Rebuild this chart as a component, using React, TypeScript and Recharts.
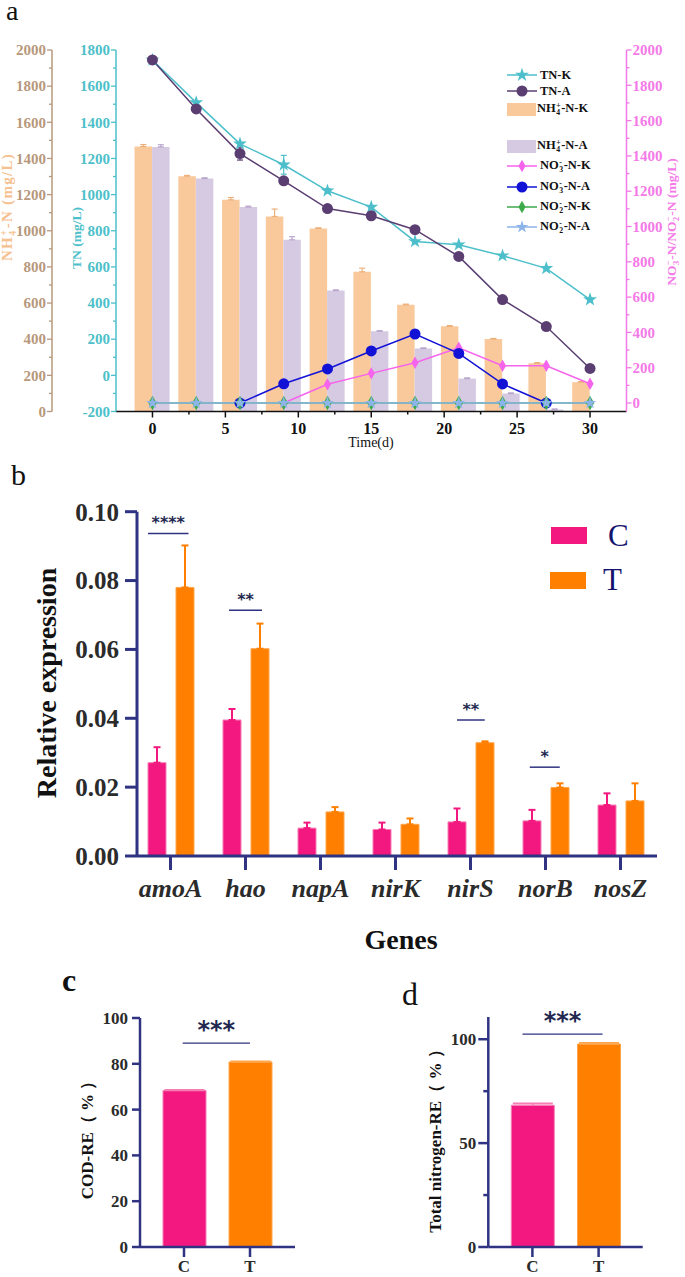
import React from 'react';
import {
  ComposedChart,
  BarChart,
  Bar,
  Line,
  Cell,
  XAxis,
  YAxis,
  ErrorBar,
  ReferenceLine,
  Symbols,
} from 'recharts';

const SERIF = '"Liberation Serif", "Times New Roman", serif';
const NAVY = '#2F3382';
const PINK = '#F2187F';
const ORANGE = '#FF8000';

// ---------- panel a : nitrogen over time ----------
const days = [0, 3, 6, 9, 12, 15, 18, 21, 24, 27, 30];
const tnK = [1745, 1509, 1281, 1165, 1021, 931, 741, 723, 662, 592, 419];
const tnKErr = [6, 6, 8, 52, 12, 6, 5, 5, 5, 5, 5];
const tnA = [1745, 1474, 1227, 1076, 923, 883, 806, 658, 419, 270, 38];
const tnAErr = [6, 6, 36, 6, 5, 5, 5, 5, 5, 5, 5];
const nh4K = [1466, 1302, 1171, 1079, 1013, 773, 590, 471, 401, 267, 162];
const nh4KErr = [11, 4, 13, 41, 3, 20, 4, 4, 3, 3, 3];
const nh4A = [1464, 1289, 1131, 950, 669, 444, 348, 182, 99, 11, 0];
const nh4AErr = [12, 4, 5, 17, 4, 3, 4, 4, 4, 3, 0];
const no3K = [null, null, null, 0, 106, 168, 228, 313, 211, 211, 109];
const no3A = [null, null, 0, 109, 193, 295, 391, 281, 108, 0, null];
const no2K = [0, 0, 0, 0, 0, 0, 0, 0, 0, 0, 0];
const no2A = [0, 0, 0, 0, 0, 0, 0, 0, 0, 0, 0];

const timeTicks = [0, 2.5, 5, 7.5, 10, 12.5, 15, 17.5, 20, 22.5, 25, 27.5, 30];
const nh4Ticks = [0, 100, 200, 300, 400, 500, 600, 700, 800, 900, 1000, 1100, 1200, 1300, 1400, 1500, 1600, 1700, 1800, 1900, 2000];
const tnTicks = [-200, -100, 0, 100, 200, 300, 400, 500, 600, 700, 800, 900, 1000, 1100, 1200, 1300, 1400, 1500, 1600, 1700, 1800];
const noTicks = [0, 100, 200, 300, 400, 500, 600, 700, 800, 900, 1000, 1100, 1200, 1300, 1400, 1500, 1600, 1700, 1800, 1900, 2000];

// ---------- panel b : gene expression ----------
const genes = ['amoA', 'hao', 'napA', 'nirK', 'nirS', 'norB', 'nosZ'];
const exprC = [0.0271, 0.0395, 0.0081, 0.0077, 0.0099, 0.0102, 0.0148];
const exprCErr = [0.0045, 0.0032, 0.0016, 0.002, 0.0039, 0.0032, 0.0034];
const exprT = [0.078, 0.0602, 0.0128, 0.0092, 0.0329, 0.0199, 0.016];
const exprTErr = [0.0122, 0.0073, 0.0014, 0.0017, 0.0004, 0.0012, 0.0051];
const exprTicks = [0, 0.02, 0.04, 0.06, 0.08, 0.1];
// significance brackets, x in gene-index units (gene centre = index)
const sigMarks = ['****', '**', '**', '*'];
const sigLevel = [0.0937, 0.0714, 0.0395, 0.0258];
const sigFrom = [-0.3, 0.78, 3.82, 4.79];
const sigTo = [0.24, 1.22, 4.19, 5.19];

// ---------- panels c, d : removal efficiency ----------
const groups = ['C', 'T'];
const codRE = [68.3, 80.8];
const codErr = [0.4, 0.3];
const codTicks = [0, 20, 40, 60, 80, 100];
const totalNRE = [68.2, 97.7];
const totalNErr = [1, 0.6];
const tnReTicks = [0, 25, 50, 75, 100];

const C = {
  cyan: '#4DBFCA',
  purple: '#5A3E72',
  peach: '#F9C99C',
  lav: '#D6CAE2',
  magenta: '#F663EC',
  blue: '#1212D6',
  green: '#3DAA4B',
  lblue: '#8DB4E8',
  brown: '#B7987C',
  pinkAxis: '#F47AE8',
};

const aData = days.map((d, i) => ({
  day: d,
  tnK: tnK[i],
  tnKE: tnKErr[i],
  tnA: tnA[i],
  tnAE: tnAErr[i],
  nh4K: nh4K[i],
  nh4KE: [0, nh4KErr[i]],
  nh4A: nh4A[i],
  nh4AE: [0, nh4AErr[i]],
  no3K: no3K[i],
  no3A: no3A[i],
  no2K: no2K[i],
  no2A: no2A[i],
}));

const bData = genes.map((g, i) => ({
  gene: g,
  pos: i,
  c: exprC[i],
  ec: [0, exprCErr[i]],
  t: exprT[i],
  et: [0, exprTErr[i]],
}));

const cData = groups.map((g, i) => ({
  g,
  pos: i,
  v: codRE[i],
  ec: i === 0 ? [0, codErr[i]] : null,
  et: i === 1 ? [0, codErr[i]] : null,
}));

const dData = groups.map((g, i) => ({
  g,
  pos: i,
  v: totalNRE[i],
  ec: i === 0 ? [0, totalNErr[i]] : null,
  et: i === 1 ? [0, totalNErr[i]] : null,
}));

const marker = (type: any, size: number, fill: string) => (p: any) => {
  if (!Number.isFinite(p.cy) || p.value == null) return <g key={`m${p.index}`} />;
  return <Symbols key={`m${p.index}`} cx={p.cx} cy={p.cy} type={type} size={size} fill={fill} />;
};

// y axis tick with major / minor marks
const YTick = (p: any) => {
  const { x, y, payload, clr, side, majorStep, len, minorLen, fs, gap, sw, txt } = p;
  const v = payload.value;
  const major = Math.abs(Math.round(v) % majorStep) === 0;
  const l = major ? len : minorLen;
  const dir = side === 'left' ? -1 : 1;
  return (
    <g>
      <line x1={x} x2={x + dir * l} y1={y} y2={y} stroke={clr} strokeWidth={sw} />
      {major && (
        <text
          x={x + dir * (len + gap)}
          y={y}
          dy="0.35em"
          textAnchor={side === 'left' ? 'end' : 'start'}
          fill={txt || clr}
          fontSize={fs}
          fontWeight="bold"
          fontFamily={SERIF}
        >
          {v}
        </text>
      )}
    </g>
  );
};

const BottomTick = (p: any) => {
  const v = p.payload.value;
  const major = v % 5 === 0;
  return (
    <g>
      <line x1={p.x} x2={p.x} y1={p.y} y2={p.y + (major ? 6 : 3)} stroke="#111" strokeWidth={1.5} />
      {major && (
        <text x={p.x} y={p.y + 22} textAnchor="middle" fontSize={16} fontWeight="bold" fontFamily={SERIF} fill="#111">
          {v}
        </text>
      )}
    </g>
  );
};

const TopTick = (p: any) => {
  const major = p.payload.value % 5 === 0;
  return <line x1={p.x} x2={p.x} y1={p.y} y2={p.y + (major ? 6 : 3)} stroke="#111" strokeWidth={1.5} />;
};

const SubSup = ({ sub, sup }: any) => (
  <span
    style={{
      display: 'inline-flex',
      flexDirection: 'column',
      fontSize: '0.62em',
      lineHeight: 0.95,
      verticalAlign: 'middle',
      margin: '0 0.5px',
    }}
  >
    <span>{sup}</span>
    <span>{sub}</span>
  </span>
);

const VLabel = ({ cx, cy, size, color, weight = 'bold', spacing = 0, children }: any) => (
  <div
    style={{
      position: 'absolute',
      left: cx,
      top: cy,
      transform: 'translate(-50%, -50%) rotate(-90deg)',
      whiteSpace: 'nowrap',
      fontFamily: SERIF,
      fontSize: size,
      fontWeight: weight,
      letterSpacing: spacing,
      color,
      lineHeight: 1,
    }}
  >
    {children}
  </div>
);

const Txt = ({ left, top, size, color = '#111', weight = 'normal', style, children }: any) => (
  <div
    style={{
      position: 'absolute',
      left,
      top,
      fontFamily: SERIF,
      fontSize: size,
      fontWeight: weight,
      color,
      lineHeight: 1,
      whiteSpace: 'nowrap',
      ...style,
    }}
  >
    {children}
  </div>
);

const LegendLine = ({ color, type, size }: any) => (
  <svg width={30} height={14} style={{ display: 'block' }}>
    <line x1={0} x2={30} y1={7} y2={7} stroke={color} strokeWidth={1.5} />
    <Symbols cx={15} cy={7} type={type} size={size} fill={color} />
  </svg>
);

const legendRow = (top: number, symbol: React.ReactNode, label: React.ReactNode, textLeft: number) => (
  <div style={{ position: 'absolute', left: 507, top: top - 8, height: 16, display: 'flex', alignItems: 'center' }}>
    {symbol}
    <span
      style={{
        position: 'absolute',
        left: textLeft,
        fontFamily: SERIF,
        fontWeight: 'bold',
        fontSize: 12.5,
        color: '#111',
        whiteSpace: 'nowrap',
        lineHeight: 1,
      }}
    >
      {label}
    </span>
  </div>
);

const PanelA = () => (
  <>
    <div style={{ position: 'absolute', left: 0, top: 0 }}>
      <ComposedChart width={685} height={450} data={aData} margin={{ top: 50, right: 0, bottom: 0, left: 0 }} barGap={0}>
        <XAxis
          xAxisId="t"
          dataKey="day"
          type="number"
          domain={[-2.5, 32.5]}
          ticks={timeTicks}
          interval={0}
          height={38.5}
          tickSize={0}
          tickMargin={0}
          tickLine={false}
          axisLine={{ stroke: '#111', strokeWidth: 1.5 }}
          tick={<BottomTick />}
        />
        <XAxis
          xAxisId="top"
          orientation="top"
          dataKey="day"
          type="number"
          domain={[-2.5, 32.5]}
          ticks={timeTicks}
          interval={0}
          height={0}
          tickSize={0}
          tickMargin={0}
          tickLine={false}
          axisLine={{ stroke: '#111', strokeWidth: 1.5 }}
          tick={<TopTick />}
        />
        {/* inner left axis (TN) */}
        <YAxis
          yAxisId="y1tn"
          width={64}
          type="number"
          domain={[-200, 1800]}
          ticks={tnTicks}
          interval={0}
          tickSize={0}
          tickMargin={0}
          tickLine={false}
          axisLine={{ stroke: C.cyan, strokeWidth: 1.5 }}
          tick={<YTick clr={C.cyan} side="left" majorStep={200} len={5} minorLen={3} fs={15} gap={1} sw={1.3} />}
        />
        {/* outer left axis (NH4+) */}
        <YAxis
          yAxisId="y2nh4"
          width={52}
          type="number"
          domain={[0, 2000]}
          ticks={nh4Ticks}
          interval={0}
          tickSize={0}
          tickMargin={0}
          tickLine={false}
          axisLine={{ stroke: C.brown, strokeWidth: 1.5 }}
          tick={<YTick clr={C.brown} side="left" majorStep={200} len={5} minorLen={3} fs={15} gap={1} sw={1.3} />}
        />
        <YAxis
          yAxisId="y3no"
          orientation="right"
          width={58.5}
          type="number"
          domain={[-48, 2000]}
          ticks={noTicks}
          interval={0}
          tickSize={0}
          tickMargin={0}
          tickLine={false}
          axisLine={{ stroke: C.pinkAxis, strokeWidth: 1.5 }}
          tick={<YTick clr={C.pinkAxis} side="right" majorStep={200} len={5} minorLen={3} fs={15} gap={1} sw={1.3} />}
        />

        <Bar xAxisId="t" yAxisId="y2nh4" dataKey="nh4K" fill={C.peach} barSize={17.5} isAnimationActive={false}>
          <ErrorBar dataKey="nh4KE" direction="y" width={3} stroke="#EDB07A" strokeWidth={1.2} />
        </Bar>
        <Bar xAxisId="t" yAxisId="y2nh4" dataKey="nh4A" fill={C.lav} barSize={17.5} isAnimationActive={false}>
          <ErrorBar dataKey="nh4AE" direction="y" width={3} stroke="#B8A6CC" strokeWidth={1.2} />
        </Bar>

        <Line xAxisId="t" yAxisId="y1tn" dataKey="tnK" stroke={C.cyan} strokeWidth={1.5} dot={marker('star', 60, C.cyan)} isAnimationActive={false}>
          <ErrorBar dataKey="tnKE" direction="y" width={3} stroke={C.cyan} strokeWidth={1.2} />
        </Line>
        <Line xAxisId="t" yAxisId="y1tn" dataKey="tnA" stroke={C.purple} strokeWidth={1.5} dot={marker('circle', 95, C.purple)} isAnimationActive={false}>
          <ErrorBar dataKey="tnAE" direction="y" width={3} stroke={C.purple} strokeWidth={1.2} />
        </Line>
        <Line xAxisId="t" yAxisId="y3no" dataKey="no3K" stroke={C.magenta} strokeWidth={1.5} dot={marker('diamond', 44, C.magenta)} isAnimationActive={false} />
        <Line xAxisId="t" yAxisId="y3no" dataKey="no3A" stroke={C.blue} strokeWidth={1.5} dot={marker('circle', 95, C.blue)} isAnimationActive={false} />
        <Line xAxisId="t" yAxisId="y3no" dataKey="no2K" stroke={C.green} strokeWidth={1.5} dot={marker('diamond', 60, C.green)} isAnimationActive={false} />
        <Line xAxisId="t" yAxisId="y3no" dataKey="no2A" stroke={C.lblue} strokeWidth={1.5} dot={marker('star', 50, C.lblue)} isAnimationActive={false} />
      </ComposedChart>
    </div>

    <Txt left={6} top={0} size={28} style={{ lineHeight: 0.8 }}>a</Txt>

    <VLabel cx={9} cy={207} size={15} spacing={1.3} color="#F6C190">
      NH<SubSup sub="4" sup="+" />-N (mg/L)
    </VLabel>
    <VLabel cx={77} cy={238} size={13.5} color={C.cyan}>
      TN (mg/L)
    </VLabel>
    <VLabel cx={673} cy={222} size={13.5} color={C.pinkAxis}>
      NO<SubSup sub="3" sup="−" />-N/NO<SubSup sub="2" sup="−" />-N (mg/L)
    </VLabel>
    <Txt left={371} top={436} size={14} style={{ transform: 'translateX(-50%)' }}>
      Time(d)
    </Txt>

    {legendRow(75, <LegendLine color={C.cyan} type="star" size={60} />, 'TN-K', 33)}
    {legendRow(91, <LegendLine color={C.purple} type="circle" size={95} />, 'TN-A', 33)}
    {legendRow(109, <div style={{ width: 29, height: 13, background: C.peach }} />, <>NH<SubSup sub="4" sup="+" />-N-K</>, 30)}
    {legendRow(146, <div style={{ width: 29, height: 13, background: C.lav }} />, <>NH<SubSup sub="4" sup="+" />-N-A</>, 30)}
    {legendRow(166, <LegendLine color={C.magenta} type="diamond" size={44} />, <>NO<SubSup sub="3" sup="-" />-N-K</>, 33)}
    {legendRow(187, <LegendLine color={C.blue} type="circle" size={95} />, <>NO<SubSup sub="3" sup="-" />-N-A</>, 33)}
    {legendRow(207, <LegendLine color={C.green} type="diamond" size={44} />, <>NO<SubSup sub="2" sup="-" />-N-K</>, 33)}
    {legendRow(227, <LegendLine color={C.lblue} type="star" size={50} />, <>NO<SubSup sub="2" sup="-" />-N-A</>, 33)}
  </>
);

const sigLabel = (value: string, fontSize: number) => ({
  value,
  position: 'top' as const,
  fill: '#232850',
  fontSize,
  fontWeight: 700,
  fontFamily: '"DejaVu Sans", sans-serif',
});

const PanelB = () => (
  <>
    <div style={{ position: 'absolute', left: 0, top: 470 }}>
      <BarChart width={685} height={440} data={bData} margin={{ top: 41.7, right: 28, bottom: 0, left: 0 }} barGap={10}>
        <XAxis
          dataKey="gene"
          padding={{ left: -4, right: -1 }}
          height={54}
          interval={0}
          tickSize={14}
          tickMargin={9}
          axisLine={{ stroke: NAVY, strokeWidth: 3 }}
          tickLine={{ stroke: NAVY, strokeWidth: 3 }}
          tick={{ fill: '#2b2b2b', fontSize: 26, fontWeight: 700, fontStyle: 'italic', fontFamily: SERIF }}
        />
        <XAxis
          xAxisId="sig"
          dataKey="pos"
          type="number"
          domain={[-0.5, 6.5]}
          allowDataOverflow
          hide
          padding={{ left: -4, right: -1 }}
        />
        <YAxis
          width={137}
          type="number"
          domain={[0, 0.1]}
          ticks={exprTicks}
          interval={0}
          tickFormatter={(v: number) => v.toFixed(2)}
          tickSize={12}
          tickMargin={6}
          axisLine={{ stroke: NAVY, strokeWidth: 3 }}
          tickLine={{ stroke: NAVY, strokeWidth: 3 }}
          tick={{ fill: '#2b2b2b', fontSize: 25, fontWeight: 700, fontFamily: SERIF }}
        />
        <Bar dataKey="c" fill={PINK} stroke="#F77DB5" strokeWidth={1} barSize={18} isAnimationActive={false}>
          <ErrorBar dataKey="ec" direction="y" width={3.5} stroke={PINK} strokeWidth={2} />
        </Bar>
        <Bar dataKey="t" fill={ORANGE} stroke="#FFA64D" strokeWidth={1} barSize={18} isAnimationActive={false}>
          <ErrorBar dataKey="et" direction="y" width={3.5} stroke={ORANGE} strokeWidth={2} />
        </Bar>
        {sigMarks.map((m, i) => (
          <ReferenceLine
            key={i}
            xAxisId="sig"
            ifOverflow="visible"
            segment={[
              { x: sigFrom[i], y: sigLevel[i] },
              { x: sigTo[i], y: sigLevel[i] },
            ]}
            stroke={NAVY}
            strokeWidth={1.5}
            label={sigLabel(m, 16)}
          />
        ))}
      </BarChart>
    </div>

    <Txt left={11} top={460} size={30}>b</Txt>
    <VLabel cx={47} cy={683} size={28} color="#111">
      Relative expression
    </VLabel>
    <Txt left={401} top={925.5} size={28} weight="bold" style={{ transform: 'translateX(-50%)' }}>
      Genes
    </Txt>

    <div style={{ position: 'absolute', left: 551, top: 527, width: 36, height: 17, background: PINK }} />
    <div style={{ position: 'absolute', left: 550, top: 572, width: 36, height: 17, background: ORANGE }} />
    <Txt left={608} top={520} size={31} color="#14146E">C</Txt>
    <Txt left={603} top={564} size={31} color="#14146E">T</Txt>
  </>
);

const PanelC = () => (
  <>
    <div style={{ position: 'absolute', left: 0, top: 990 }}>
      <BarChart width={300} height={287} data={cData} margin={{ top: 28, right: 5, bottom: 0, left: 0 }}>
        <XAxis
          dataKey="g"
          padding={{ left: 11, right: 12 }}
          height={30}
          interval={0}
          tickSize={10}
          tickMargin={3}
          axisLine={{ stroke: NAVY, strokeWidth: 2.5 }}
          tickLine={{ stroke: NAVY, strokeWidth: 2.5 }}
          tick={{ fill: '#2b2b2b', fontSize: 17, fontWeight: 700, fontFamily: SERIF }}
        />
        <XAxis xAxisId="sig" dataKey="pos" type="number" domain={[-0.5, 1.5]} allowDataOverflow hide padding={{ left: 11, right: 12 }} />
        <YAxis
          width={140}
          type="number"
          domain={[0, 100]}
          ticks={codTicks}
          interval={0}
          tickSize={8}
          tickMargin={4}
          axisLine={{ stroke: NAVY, strokeWidth: 2.5 }}
          tickLine={{ stroke: NAVY, strokeWidth: 2.5 }}
          tick={{ fill: '#2b2b2b', fontSize: 17, fontWeight: 700, fontFamily: SERIF }}
        />
        <Bar dataKey="v" barSize={43} isAnimationActive={false}>
          <Cell fill={PINK} stroke="#F77DB5" />
          <Cell fill={ORANGE} stroke="#FFA64D" />
          <ErrorBar dataKey="ec" direction="y" width={20} stroke="#F77DB5" strokeWidth={1.5} />
          <ErrorBar dataKey="et" direction="y" width={20} stroke="#FFA64D" strokeWidth={1.5} />
        </Bar>
        <ReferenceLine
          xAxisId="sig"
          ifOverflow="visible"
          segment={[
            { x: -0.02, y: 89 },
            { x: 1.0, y: 89 },
          ]}
          stroke={NAVY}
          strokeWidth={1.3}
          label={sigLabel('***', 24)}
        />
      </BarChart>
    </div>
    <Txt left={62} top={964} size={32} weight="bold">c</Txt>
    <VLabel cx={86.5} cy={1136} size={17} color="#111">
      COD-RE（ % ）
    </VLabel>
  </>
);

const PanelD = () => (
  <>
    <div style={{ position: 'absolute', left: 340, top: 990 }}>
      <BarChart width={310} height={287} data={dData} margin={{ top: 27, right: 7.3, bottom: 0, left: 0 }}>
        <XAxis
          dataKey="g"
          padding={{ left: 11, right: 11 }}
          height={30}
          interval={0}
          tickSize={10}
          tickMargin={3}
          axisLine={{ stroke: NAVY, strokeWidth: 2.5 }}
          tickLine={{ stroke: NAVY, strokeWidth: 2.5 }}
          tick={{ fill: '#2b2b2b', fontSize: 17, fontWeight: 700, fontFamily: SERIF }}
        />
        <XAxis xAxisId="sig" dataKey="pos" type="number" domain={[-0.5, 1.5]} allowDataOverflow hide padding={{ left: 11, right: 11 }} />
        <YAxis
          width={148.3}
          type="number"
          domain={[0, 110.7]}
          ticks={tnReTicks}
          interval={0}
          tickSize={0}
          tickMargin={0}
          tickLine={false}
          axisLine={{ stroke: NAVY, strokeWidth: 2.5 }}
          tick={<YTick clr={NAVY} txt="#2b2b2b" side="left" majorStep={50} len={10} minorLen={5} fs={17} gap={2} sw={2.5} />}
        />
        <Bar dataKey="v" barSize={43} isAnimationActive={false}>
          <Cell fill={PINK} stroke="#F77DB5" />
          <Cell fill={ORANGE} stroke="#FFA64D" />
          <ErrorBar dataKey="ec" direction="y" width={20} stroke="#F77DB5" strokeWidth={1.5} />
          <ErrorBar dataKey="et" direction="y" width={20} stroke="#FFA64D" strokeWidth={1.5} />
        </Bar>
        <ReferenceLine
          xAxisId="sig"
          ifOverflow="visible"
          segment={[
            { x: -0.15, y: 102.5 },
            { x: 1.06, y: 102.5 },
          ]}
          stroke={NAVY}
          strokeWidth={1.3}
          label={sigLabel('***', 24)}
        />
      </BarChart>
    </div>
    <Txt left={402} top={978} size={32}>d</Txt>
    <VLabel cx={435} cy={1137} size={17} color="#111">
      Total nitrogen-RE（ % ）
    </VLabel>
  </>
);

export default function App() {
  return (
    <div style={{ position: 'absolute', left: 0, top: 0, width: 685, height: 1277, background: '#fff', overflow: 'hidden' }}>
      <PanelA />
      <PanelB />
      <PanelC />
      <PanelD />
    </div>
  );
}
